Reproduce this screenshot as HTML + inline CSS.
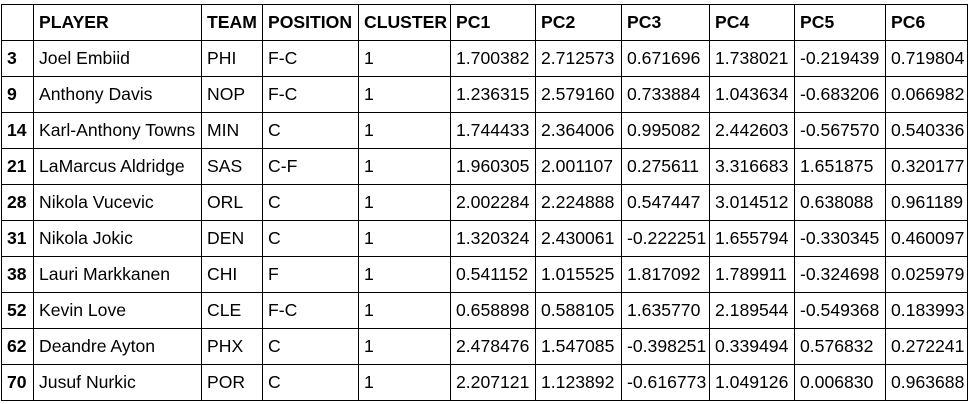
<!DOCTYPE html>
<html><head><meta charset="utf-8"><style>
body{margin:0;background:#fff;width:971px;height:404px;overflow:hidden}
table{position:absolute;left:1px;top:4px;border-collapse:collapse;table-layout:fixed;font-family:"Liberation Sans",Arial,sans-serif;font-size:17.6px;color:#000}
td,th{border:1px solid #000;height:33px;padding:0 0 2px 5px;text-align:left;white-space:nowrap;overflow:hidden;line-height:20px}
th{font-weight:bold}
td.i{font-weight:bold}
</style></head><body>
<table>
<colgroup><col style="width:32px"><col style="width:168px"><col style="width:61px"><col style="width:96px"><col style="width:92px"><col style="width:85px"><col style="width:86px"><col style="width:88px"><col style="width:85px"><col style="width:91px"><col style="width:82px"></colgroup>
<thead><tr><th></th><th>PLAYER</th><th>TEAM</th><th>POSITION</th><th>CLUSTER</th><th>PC1</th><th>PC2</th><th>PC3</th><th>PC4</th><th>PC5</th><th>PC6</th></tr></thead>
<tbody>
<tr><td class="i">3</td><td>Joel Embiid</td><td>PHI</td><td>F-C</td><td>1</td><td>1.700382</td><td>2.712573</td><td>0.671696</td><td>1.738021</td><td>-0.219439</td><td>0.719804</td></tr>
<tr><td class="i">9</td><td>Anthony Davis</td><td>NOP</td><td>F-C</td><td>1</td><td>1.236315</td><td>2.579160</td><td>0.733884</td><td>1.043634</td><td>-0.683206</td><td>0.066982</td></tr>
<tr><td class="i">14</td><td>Karl-Anthony Towns</td><td>MIN</td><td>C</td><td>1</td><td>1.744433</td><td>2.364006</td><td>0.995082</td><td>2.442603</td><td>-0.567570</td><td>0.540336</td></tr>
<tr><td class="i">21</td><td>LaMarcus Aldridge</td><td>SAS</td><td>C-F</td><td>1</td><td>1.960305</td><td>2.001107</td><td>0.275611</td><td>3.316683</td><td>1.651875</td><td>0.320177</td></tr>
<tr><td class="i">28</td><td>Nikola Vucevic</td><td>ORL</td><td>C</td><td>1</td><td>2.002284</td><td>2.224888</td><td>0.547447</td><td>3.014512</td><td>0.638088</td><td>0.961189</td></tr>
<tr><td class="i">31</td><td>Nikola Jokic</td><td>DEN</td><td>C</td><td>1</td><td>1.320324</td><td>2.430061</td><td>-0.222251</td><td>1.655794</td><td>-0.330345</td><td>0.460097</td></tr>
<tr><td class="i">38</td><td>Lauri Markkanen</td><td>CHI</td><td>F</td><td>1</td><td>0.541152</td><td>1.015525</td><td>1.817092</td><td>1.789911</td><td>-0.324698</td><td>0.025979</td></tr>
<tr><td class="i">52</td><td>Kevin Love</td><td>CLE</td><td>F-C</td><td>1</td><td>0.658898</td><td>0.588105</td><td>1.635770</td><td>2.189544</td><td>-0.549368</td><td>0.183993</td></tr>
<tr><td class="i">62</td><td>Deandre Ayton</td><td>PHX</td><td>C</td><td>1</td><td>2.478476</td><td>1.547085</td><td>-0.398251</td><td>0.339494</td><td>0.576832</td><td>0.272241</td></tr>
<tr><td class="i">70</td><td>Jusuf Nurkic</td><td>POR</td><td>C</td><td>1</td><td>2.207121</td><td>1.123892</td><td>-0.616773</td><td>1.049126</td><td>0.006830</td><td>0.963688</td></tr>
</tbody></table>
</body></html>
